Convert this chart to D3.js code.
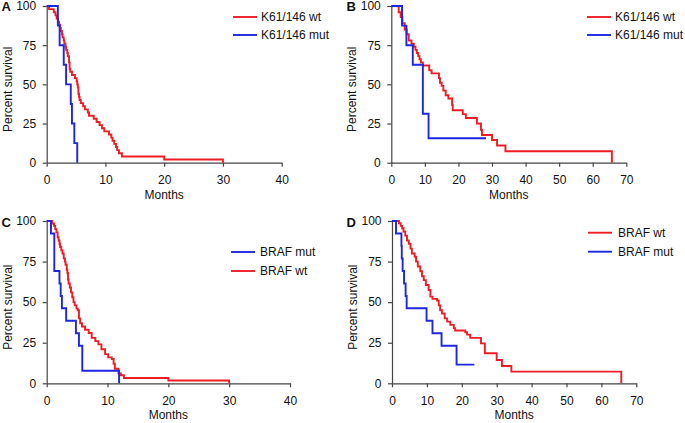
<!DOCTYPE html>
<html><head><meta charset="utf-8">
<script src="https://cdn.jsdelivr.net/npm/d3@7/dist/d3.min.js"></script>
<style>
body{margin:0;background:#fff;}
svg{display:block;font-family:"Liberation Sans",Arial,Helvetica,sans-serif;}
</style></head>
<body>
<svg id="chart" width="685" height="423"></svg>
<script>
// ---------- DATA ----------
const yTicks = [0, 25, 50, 75, 100];
const xTicksShort = [0, 10, 20, 30, 40];
const xTicksLong = [0, 10, 20, 30, 40, 50, 60, 70];
const panelLabels = ["A", "B", "C", "D"];
const legendA = ["K61/146 wt", "K61/146 mut"];
const legendB = ["K61/146 wt", "K61/146 mut"];
const legendC = ["BRAF mut", "BRAF wt"];
const legendD = ["BRAF wt", "BRAF mut"];

// Panel A – K61/146 wt (red)
const aWtT = [0.4,1.2,1.5,1.7,1.9,2.1,2.3,2.4,2.6,2.7,2.9,3.0,3.2,3.3,3.5,3.6,3.8,3.9,4.0,4.3,4.8,5.1,5.2,5.3,5.4,5.5,5.6,5.8,6.2,6.5,7.0,7.2,8.0,8.5,9.0,9.4,9.8,10.6,11.0,11.2,11.5,11.8,12.0,12.3,12.8,20.0,30.0];
const aWtS = [98,96,94,92,90,88,86,84,82,80,78,76,74,72,70,68,64,60,58,56,54,52,50,48,44,42,40,38,36,34,32,30,28,26,24,22,20,18,16,14,12,10,8,6,4,2,0];
// Panel A – K61/146 mut (blue)
const aMutT = [1.9,2.2,2.9,3.3,4.1,4.3,4.7,5.2];
const aMutS = [87.5,75,62.5,50,37.5,25,12.5,0];

// Panel B – K61/146 wt (red)
const bWtT = [2.2,2.8,3.3,4.0,4.6,5.2,6.0,6.7,7.2,7.6,8.0,8.4,8.8,9.4,11.3,12.0,14.2,14.5,15.0,15.5,16.2,17.0,18.1,18.3,21.3,22.2,25.5,26.7,27.0,30.0,31.5,34.0,65.7];
const bWtS = [96,93,89,85,82,78,76,74,72,70,68,66,64,62,59,57,54,51,49,46,43,41,37,33.5,31,28.5,25,21,17.7,14.5,11,7.3,0];
// Panel B – K61/146 mut (blue), censored at end
const bMutT = [3.2,4.5,6.4,9.4,11.1,28.2];
const bMutS = [87.5,75,62.5,31.25,15.6,15.6];

// Panel C – BRAF mut (blue)
const cMutT = [0.7,1.25,2.1,2.3,2.5,3.2,4.8,5.3,5.85,11.9];
const cMutS = [92.3,69.2,61.5,53.8,46.2,38.5,30.8,23.1,7.7,0];
// Panel C – BRAF wt (red)
const cWtT = [0.9,1.2,1.4,1.6,1.8,1.95,2.1,2.2,2.4,2.6,2.8,3.0,3.1,3.3,3.4,3.5,3.6,3.8,4.0,4.2,4.4,4.6,4.9,5.1,5.3,5.5,5.8,6.3,6.9,7.4,8.0,8.5,9.0,9.6,10.1,10.7,11.0,11.2,11.8,12.2,12.7,20.0,30.0];
const cWtS = [98.5,97,95,93,90,88,86,84,82,80,77,75,73,70,68,64,61.5,59,56,53,50,48,46,45,40,37,35,33,31,28,26,24,21,18,16,15,12,9,6,5,3.3,1.7,0];

// Panel D – BRAF wt (red)
const dWtT = [2.0,2.5,2.9,3.3,3.8,4.3,4.8,5.3,5.7,6.5,6.9,7.4,8.1,8.6,9.1,9.7,10.5,11.0,11.6,12.9,13.4,13.8,14.3,15.1,15.8,16.7,17.7,18.1,21.0,21.5,22.4,25.5,26.6,30.0,31.5,34.2,65.7];
const dWtS = [98.6,97,95.5,93.5,91,88,86,83,80,78,75,72,69,66,63.6,60.6,57.5,53.4,52,51,48,45,43,40,38,36,34,32.5,31.5,30,28,24.6,18.5,14.4,10.7,7.2,0];
// Panel D – BRAF mut (blue), censored at end
const dMutT = [1.15,2.7,2.8,3.05,3.45,3.9,4.2,9.9,11.6,14.2,18.5,23.6];
const dMutS = [92.3,84.6,76.9,69.2,61.5,53.8,46.2,38.5,30.8,23.1,11.5,11.5];

// ---------- STYLE ----------
const RED = "#ee1c25", BLUE = "#1f26e0", AXIS = "#444";

const svg = d3.select("#chart");

const panels = [
  {label: panelLabels[0], x0: 46.7, x1: 281.7, y0: 6, y1: 162.7, xMax: 40, xTicks: xTicksShort, lx: 1.5, ly: 11,
   legend: {names: legendA, colors: [RED, BLUE], x: 233, y: [17, 35], tx: 261},
   series: [{t: aWtT, s: aWtS, c: RED}, {t: aMutT, s: aMutS, c: BLUE}]},
  {label: panelLabels[1], x0: 391.3, x1: 626.3, y0: 6, y1: 162.7, xMax: 70, xTicks: xTicksLong, lx: 346.5, ly: 11,
   legend: {names: legendB, colors: [RED, BLUE], x: 587, y: [17, 35], tx: 615},
   series: [{t: bWtT, s: bWtS, c: RED}, {t: bMutT, s: bMutS, c: BLUE}]},
  {label: panelLabels[2], x0: 46.7, x1: 290, y0: 221, y1: 383.3, xMax: 40, xTicks: xTicksShort, lx: 1.5, ly: 226.5,
   legend: {names: legendC, colors: [BLUE, RED], x: 231, y: [252, 271], tx: 260},
   series: [{t: cWtT, s: cWtS, c: RED}, {t: cMutT, s: cMutS, c: BLUE}]},
  {label: panelLabels[3], x0: 392, x1: 636.3, y0: 221, y1: 383.3, xMax: 70, xTicks: xTicksLong, lx: 346.5, ly: 226.5,
   legend: {names: legendD, colors: [RED, BLUE], x: 588, y: [232.7, 251.7], tx: 618},
   series: [{t: dWtT, s: dWtS, c: RED}, {t: dMutT, s: dMutS, c: BLUE}]}
];

panels.forEach(p => {
  const x = d3.scaleLinear().domain([0, p.xMax]).range([p.x0, p.x1]);
  const y = d3.scaleLinear().domain([0, 100]).range([p.y1, p.y0]);
  const g = svg.append("g");

  // axes
  const xAxis = d3.axisBottom(x).tickValues(p.xTicks).tickSize(4).tickPadding(9).tickSizeOuter(0);
  const yAxis = d3.axisLeft(y).tickValues(yTicks).tickSize(4).tickPadding(6.5).tickSizeOuter(0);
  const gx = g.append("g").attr("transform", `translate(0,${p.y1})`).call(xAxis);
  const gy = g.append("g").attr("transform", `translate(${p.x0},0)`).call(yAxis);
  [gx, gy].forEach(a => {
    a.select(".domain").attr("stroke", AXIS).attr("stroke-width", 1.2);
    a.selectAll(".tick line").attr("stroke", AXIS).attr("stroke-width", 1.2);
    a.selectAll(".tick text").attr("fill", "#111").style("font-size", "12px")
      .style("font-family", '"Liberation Sans",Arial,Helvetica,sans-serif');
  });

  // axis titles
  g.append("text").attr("x", (p.x0 + p.x1) / 2).attr("y", p.y1 + 36)
    .attr("text-anchor", "middle").style("font-size", "12px").attr("fill", "#111").text("Months");
  g.append("text")
    .attr("transform", `translate(${p.x0 - 35},${(p.y0 + p.y1) / 2 + 5}) rotate(-90)`)
    .attr("text-anchor", "middle").style("font-size", "12px").attr("fill", "#111").text("Percent survival");

  // panel label
  g.append("text").attr("x", p.lx).attr("y", p.ly).style("font-size", "13px")
    .style("font-weight", "bold").attr("fill", "#111").text(p.label);

  // curves
  const line = d3.line().x(d => x(d[0])).y(d => y(d[1])).curve(d3.curveStepAfter);
  p.series.forEach(sr => {
    const pts = [[0, 100]].concat(sr.t.map((t, i) => [t, sr.s[i]]));
    g.append("path").datum(pts).attr("d", line)
      .attr("fill", "none").attr("stroke", sr.c).attr("stroke-width", 1.9);
  });

  // legend
  p.legend.names.forEach((n, i) => {
    g.append("line").attr("x1", p.legend.x).attr("x2", p.legend.x + 24)
      .attr("y1", p.legend.y[i]).attr("y2", p.legend.y[i])
      .attr("stroke", p.legend.colors[i]).attr("stroke-width", 1.9);
    g.append("text").attr("x", p.legend.tx).attr("y", p.legend.y[i] + 4.3)
      .style("font-size", "12px").attr("fill", "#111").text(n);
  });
});
</script>
</body></html>
